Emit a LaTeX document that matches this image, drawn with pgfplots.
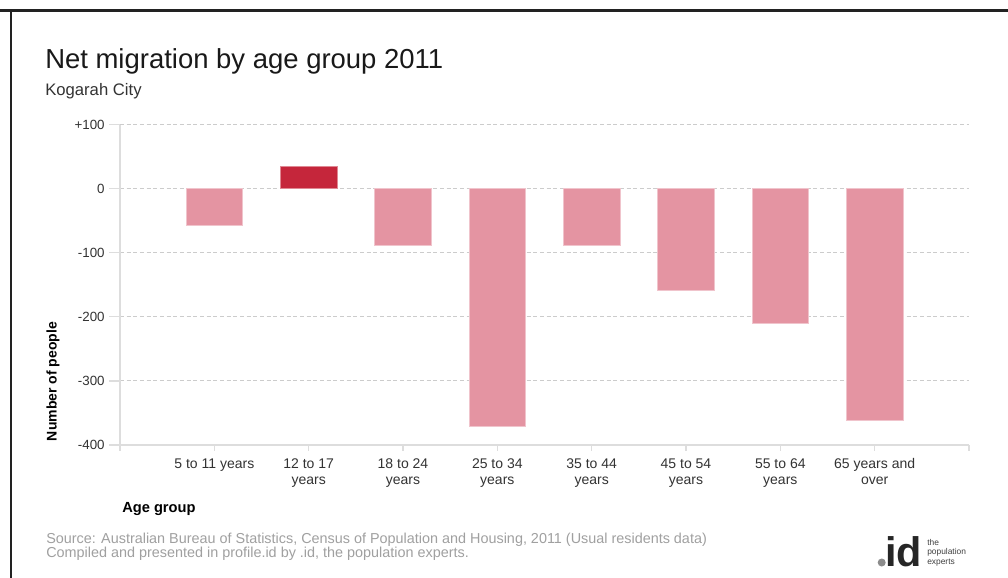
\documentclass[border=0pt]{standalone}
\usepackage{fontspec}
\setmainfont{Liberation Sans}
\usepackage{pgfplots}
\pgfplotsset{compat=1.18}
\definecolor{barlight}{HTML}{E494A2}
\definecolor{bardark}{HTML}{C5263B}
\definecolor{gridc}{HTML}{CCCCCC}
\definecolor{axisc}{HTML}{DDDDDD}
\definecolor{txt}{HTML}{333333}
\definecolor{srcc}{HTML}{A0A0A0}
\definecolor{framec}{HTML}{222222}
\begin{document}
\begin{tikzpicture}
\path[use as bounding box] (0,0) rectangle (756pt,-433.5pt);
\fill[white] (0,0) rectangle (756pt,-433.5pt);
\begin{axis}[
  at={(90pt,-93.5pt)}, anchor=north west,
  scale only axis, width=636.75pt, height=240.2pt,
  xmin=-1, xmax=8, ymin=-400, ymax=100,
  axis x line*=bottom, axis y line*=left,
  axis line style={draw=axisc, line width=1.5pt},
  tick align=outside,
  major tick length=8pt,
  xtick style={draw=axisc, line width=1pt, /pgfplots/major tick length=4.5pt},
  ytick style={draw=axisc, line width=1pt},
  xtick={-1,0,1,2,3,4,5,6,7,8},
  xticklabels={,\strut 5 to 11 years,\strut 12 to 17\\years,\strut 18 to 24\\years,\strut 25 to 34\\years,\strut 35 to 44\\years,\strut 45 to 54\\years,\strut 55 to 64\\years,\strut 65 years and\\over,},
  xticklabel style={align=center, font=\fontsize{10.5}{12}\selectfont, text=txt, yshift=2pt},
  ytick={-400,-300,-200,-100,0,100},
  yticklabels={-400,-300,-200,-100,0,+100},
  yticklabel style={font=\fontsize{10}{12}\selectfont, text=txt},
  ymajorgrids,
  grid style={draw=gridc, dash pattern=on 3pt off 2pt, line width=0.75pt},
  clip=false,
]
\addplot[ybar, bar width=0.6, bar shift=0pt, fill=barlight, draw=barlight!55!white, line width=0.6pt]
  coordinates {(0,-58) (2,-89) (3,-371) (4,-89) (5,-159) (6,-210) (7,-362)};
\addplot[ybar, bar width=0.6, bar shift=0pt, fill=bardark, draw=bardark!55!white, line width=0.6pt]
  coordinates {(1,35)};
\end{axis}
\begin{scope}[x=0.75pt, y=-0.75pt]
\node[anchor=base west, inner sep=0, font=\fontsize{20.6}{24}\selectfont, text=black!90] at (45,68) {Net migration by age group 2011};
\node[anchor=base west, inner sep=0, font=\fontsize{12.5}{14}\selectfont, text=txt] at (45,95) {Kogarah City};
\node[rotate=90, inner sep=0, font=\bfseries\fontsize{10.5}{12}\selectfont] at (53,381.5) {Number of people};
\node[anchor=base west, inner sep=0, font=\bfseries\fontsize{11}{13}\selectfont] at (122,512.7) {Age group};
\node[anchor=base west, inner sep=0, font=\fontsize{10.8}{12}\selectfont, text=srcc] at (46,543) {Source: Australian Bureau of Statistics, Census of Population and Housing, 2011 (Usual residents data)};
\node[anchor=base west, inner sep=0, font=\fontsize{10.8}{12}\selectfont, text=srcc] at (46,557) {Compiled and presented in profile.id by .id, the population experts.};
% logo
\fill[black!45] (881.7,562.5) circle (4);
\node[anchor=base west, inner sep=0, font=\bfseries\fontsize{31}{31}\selectfont, text=black!85] at (885,566) {id};
\node[anchor=base west, inner sep=0, font=\fontsize{6.3}{7}\selectfont, text=black!75] at (927,545) {the};
\node[anchor=base west, inner sep=0, font=\fontsize{6.3}{7}\selectfont, text=black!75] at (927,554.5) {population};
\node[anchor=base west, inner sep=0, font=\fontsize{6.3}{7}\selectfont, text=black!75] at (927,564) {experts};
% frame
\draw[framec, line width=2.25pt] (0,10) -- (1008,10);
\draw[framec, line width=1.5pt] (11,10) -- (11,578);
\end{scope}
\end{tikzpicture}
\end{document}
